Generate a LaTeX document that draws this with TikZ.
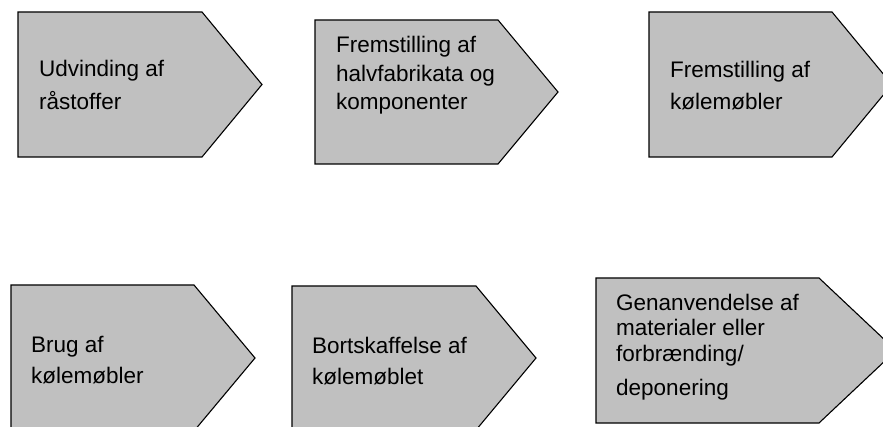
\documentclass[tikz,border=0pt]{standalone}
\usepackage{fontspec}
\setmainfont{Liberation Sans}
\begin{document}
\begin{tikzpicture}[x=1pt,y=-1pt,
  stage/.style={draw=black, fill=stagegray, line width=1.1pt, line join=miter},
  % multi-line labels are anchored at the baseline of their last line
  label/.style={anchor=base west, inner sep=0pt, align=left,
    font=\fontsize{22.5}{26}\selectfont}]
\definecolor{stagegray}{RGB}{192,192,192}
\useasboundingbox (0,0) rectangle (883,427);
\clip (0,0) rectangle (883,427);

% upper row of stages
\draw[stage] (18,12) -- (202,12) -- (262,84.5) -- (202,157) -- (18,157) -- cycle;
\draw[stage] (315,20) -- (498,20) -- (558,92) -- (498,164) -- (315,164) -- cycle;
\draw[stage] (649,12) -- (832,12) -- (892,84.5) -- (832,157) -- (649,157) -- cycle;

% lower row of stages
\draw[stage] (11,285) -- (194,285) -- (255,358) -- (194,431) -- (11,431) -- cycle;
\draw[stage] (292,286) -- (476,286) -- (536,358) -- (476,430) -- (292,430) -- cycle;
\draw[stage] (596,278) -- (819,278) -- (896,350.5) -- (819,423) -- (596,423) -- cycle;

% stage texts
\node[label] (t1) at (39,110) {Udvinding af\\[7pt]råstoffer};
\node[label] (t2) at (336,110) {Fremstilling af\\[3pt]halvfabrikata og\\[2pt]komponenter};
\node[label] (t3) at (670,110) {Fremstilling af\\[6pt]kølemøbler};
\node[label] (t4) at (31,383) {Brug af\\[5pt]kølemøbler};
\node[label] (t5) at (312,384) {Bortskaffelse af\\[5pt]kølemøblet};
\node[label] (t6) at (616,395) {Genanvendelse af\\materialer eller\\forbrænding/\\[7pt]deponering};
\end{tikzpicture}
\end{document}
